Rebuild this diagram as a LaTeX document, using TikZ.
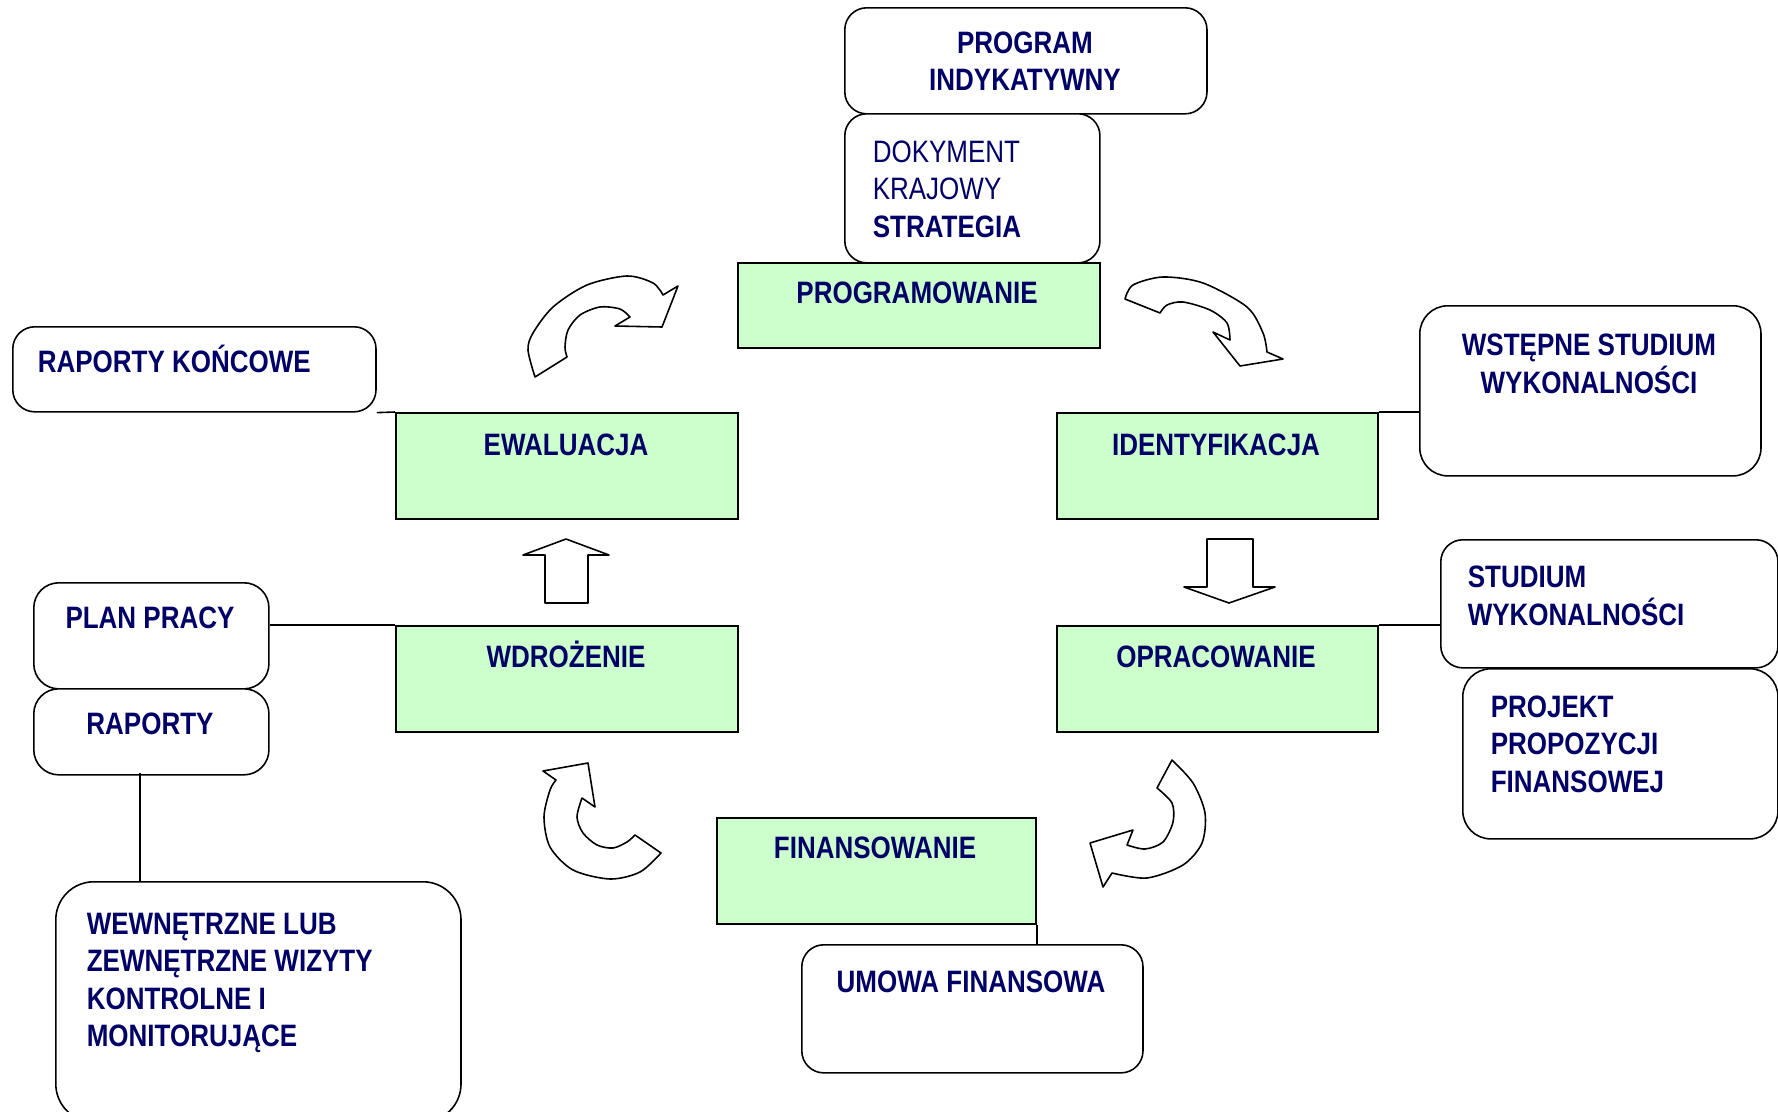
\documentclass[tikz,border=0pt]{standalone}
\usepackage{fontspec}
\setmainfont{Liberation Sans}[FakeStretch=0.84]
\usepackage{tikz}
\definecolor{stagegreen}{HTML}{CCFFCC}
\definecolor{navy}{HTML}{000066}
\newcommand\boxlines[2][l]{\begin{tabular}[t]{@{}#1@{}}#2\end{tabular}}

\begin{document}
\begin{tikzpicture}[x=0.01cm,y=-0.01cm,line width=0.45pt,
    stage/.style={draw=black,fill=stagegreen,inner sep=0pt,anchor=north west},
    doc/.style={draw=black,fill=white,rounded corners=0.22cm,inner sep=0pt,anchor=north west},
    lbl/.style={text=navy,font=\fontsize{8.8}{10.7}\selectfont\bfseries,inner sep=0pt,anchor=base},
    lbll/.style={lbl,anchor=base west},
    turn/.style={draw=black,fill=white,line join=round}]
  \useasboundingbox (0,0) rectangle (1778,1112);
  \clip (0,0) rectangle (1778,1112);

  \node[doc,minimum width=3.62cm,minimum height=1.06cm] (indyk) at (844,7) {};
  \node[doc,minimum width=2.55cm,minimum height=1.49cm] (dok) at (844,113) {};
  \node[stage,minimum width=3.62cm,minimum height=0.85cm] (prog) at (737,262) {};
  \node[doc,minimum width=3.63cm,minimum height=0.85cm] (rapk) at (12,326) {};
  \node[stage,minimum width=3.42cm,minimum height=1.06cm] (ewal) at (395,412) {};
  \node[stage,minimum width=3.21cm,minimum height=1.06cm] (ident) at (1056,412) {};
  \node[doc,rounded corners=0.28cm,minimum width=3.41cm,minimum height=1.70cm] (wstep) at (1419,305) {};
  \node[doc,minimum width=3.37cm,minimum height=1.28cm] (stud) at (1440,539) {};
  \node[doc,rounded corners=0.28cm,minimum width=3.15cm,minimum height=1.70cm] (proj) at (1462,668) {};
  \node[stage,minimum width=3.21cm,minimum height=1.06cm] (oprac) at (1056,625) {};
  \node[stage,minimum width=3.42cm,minimum height=1.06cm] (wdro) at (395,625) {};
  \node[doc,rounded corners=0.25cm,minimum width=2.35cm,minimum height=1.06cm] (plan) at (33,582) {};
  \node[doc,rounded corners=0.25cm,minimum width=2.35cm,minimum height=0.86cm] (rap) at (33,688) {};
  \node[doc,rounded corners=0.38cm,minimum width=4.05cm,minimum height=2.40cm] (wewn) at (55,881) {};
  \node[stage,minimum width=3.19cm,minimum height=1.06cm] (fin) at (716,817) {};
  \node[doc,minimum width=3.41cm,minimum height=1.28cm] (umowa) at (801,944) {};

  \node[lbl] (indykT) at (1025,53) {\boxlines[c]{PROGRAM\\INDYKATYWNY}};
  \node[lbll] (dokT) at (872,162) {\boxlines{\mdseries DOKYMENT\\\mdseries KRAJOWY\\STRATEGIA}};
  \node[lbl] (progT) at (917,303) {PROGRAMOWANIE};
  \node[lbll] (rapkT) at (37,372) {RAPORTY KOŃCOWE};
  \node[lbl] (ewalT) at (566,455) {EWALUACJA};
  \node[lbl] (identT) at (1216,455) {IDENTYFIKACJA};
  \node[lbl] (wstepT) at (1589,355) {\boxlines[c]{WSTĘPNE STUDIUM\\WYKONALNOŚCI}};
  \node[lbll] (studT) at (1467,587) {\boxlines{STUDIUM\\WYKONALNOŚCI}};
  \node[lbll] (projT) at (1490,717) {\boxlines{PROJEKT\\PROPOZYCJI\\FINANSOWEJ}};
  \node[lbl] (opracT) at (1216,667) {OPRACOWANIE};
  \node[lbl] (wdroT) at (566,667) {WDROŻENIE};
  \node[lbl] (planT) at (150,628) {PLAN PRACY};
  \node[lbl] (rapT) at (150,734) {RAPORTY};
  \node[lbll] (wewnT) at (86,934) {\boxlines{WEWNĘTRZNE LUB\\ZEWNĘTRZNE WIZYTY\\KONTROLNE I\\MONITORUJĄCE}};
  \node[lbl] (finT) at (875,858) {FINANSOWANIE};
  \node[lbl] (umowaT) at (971,992) {UMOWA FINANSOWA};

  \coordinate (rapfoot) at (140,773);
  \draw (ident.north east) -- (ident.north east -| wstep.west);
  \draw (oprac.north east) -- (oprac.north east -| stud.west);
  \draw (rapk.south east) -- (ewal.north west);
  \draw (wdro.north west) -- (wdro.north west -| plan.east);
  \draw (rapfoot) -- (rapfoot |- wewn.north);
  \draw (fin.south east) -- (fin.south east |- umowa.north);

  \draw[turn] (545,603) -- (545,555) -- (523,555) -- (566,539) -- (609,555)
    -- (588,555) -- (588,603) -- cycle;
  \draw[turn] (1207,539) -- (1207,587) -- (1184,587) -- (1229,603) -- (1275,587)
    -- (1253,587) -- (1253,539) -- cycle;

  \draw[turn] plot[smooth] coordinates {(535,377) (528,350) (533,333) (553,307) (587,285) (627,276) (653,283) (663,295)}
    -- (678,286) -- (662,327) -- (615,326) -- (630,317)
    -- plot[smooth] coordinates {(630,317) (620,309) (600,307) (580,315) (568,330) (565,347) (567,357)} -- cycle;
  \draw[turn] plot[smooth] coordinates {(1125,299) (1133,285) (1163,277) (1203,283) (1247,307) (1263,333) (1267,352)}
    -- (1283,359) -- (1240,366) -- (1213,332) -- (1230,340)
    -- plot[smooth] coordinates {(1230,340) (1227,323) (1210,310) (1183,302) (1167,305) (1160,313)} -- cycle;
  \draw[turn] plot[smooth] coordinates {(1172,760) (1193,783) (1205,813) (1202,843) (1183,865) (1147,878) (1112,873)}
    -- (1103,887) -- (1090,843) -- (1133,830) -- (1127,845)
    -- plot[smooth] coordinates {(1127,845) (1145,849) (1163,842) (1173,822) (1172,803) (1157,788)} -- cycle;
  \draw[turn] plot[smooth] coordinates {(661,853) (640,872) (610,879) (573,870) (550,847) (544,817) (550,790) (556,780)}
    -- (543,771) -- (588,763) -- (595,807) -- (582,798)
    -- plot[smooth] coordinates {(582,798) (577,817) (583,833) (597,845) (613,848) (627,842) (635,835)} -- cycle;
\end{tikzpicture}
\end{document}
